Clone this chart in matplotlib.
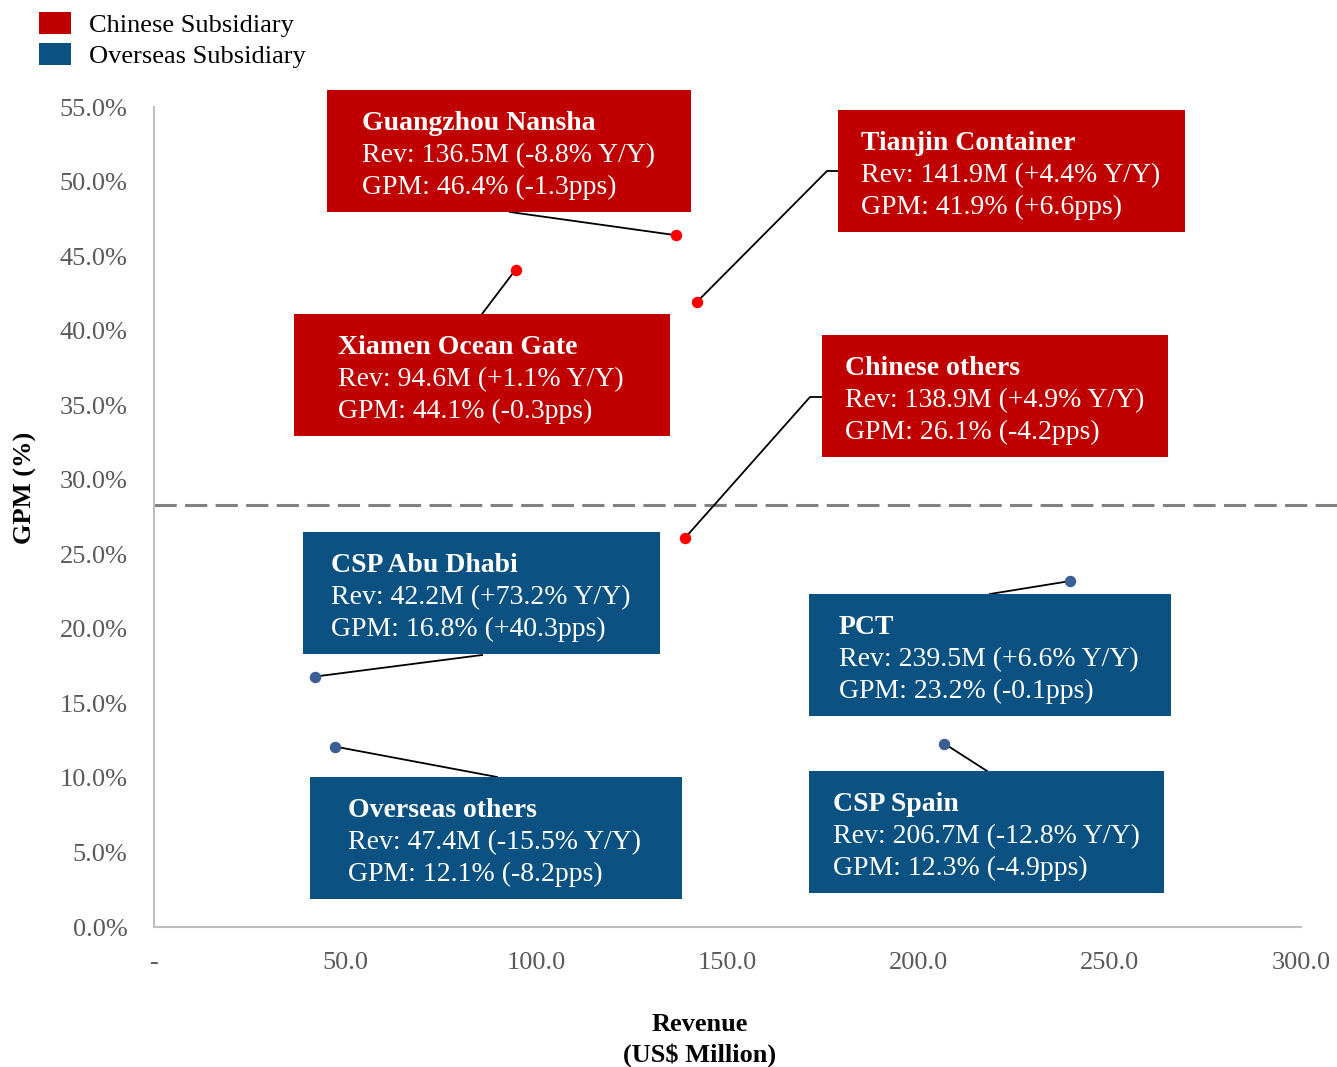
import matplotlib
matplotlib.use("Agg")
import matplotlib.pyplot as plt
from matplotlib.patches import Rectangle, Patch
from matplotlib.ticker import FuncFormatter, MultipleLocator

# ---------------- data ----------------
names = ["Guangzhou Nansha", "Tianjin Container", "Xiamen Ocean Gate", "Chinese others",
         "CSP Abu Dhabi", "PCT", "Overseas others", "CSP Spain"]
groups = ["Chinese", "Chinese", "Chinese", "Chinese",
          "Overseas", "Overseas", "Overseas", "Overseas"]
revenue = [136.5, 141.9, 94.6, 138.9, 42.2, 239.5, 47.4, 206.7]
gpm = [46.4, 41.9, 44.1, 26.1, 16.8, 23.2, 12.1, 12.3]
rev_yoy = ["-8.8%", "+4.4%", "+1.1%", "+4.9%", "+73.2%", "+6.6%", "-15.5%", "-12.8%"]
gpm_chg = ["-1.3pps", "+6.6pps", "-0.3pps", "-4.2pps", "+40.3pps", "-0.1pps", "-8.2pps", "-4.9pps"]
avg_gpm = 28.3
legend_labels = ["Chinese Subsidiary", "Overseas Subsidiary"]

# ---------------- styles / layout (reference pixels) ----------------
W, H = 1337, 1067
box_col = {"Chinese": "#C00000", "Overseas": "#0B5181"}
pt_col = {"Chinese": "#FF0000", "Overseas": "#3B5F94"}
# box: left, top, right, bottom, text-left
boxes = [
    (327, 90, 691, 212, 362),
    (838, 110, 1185, 232, 861),
    (294, 314, 670, 436, 338),
    (822, 335, 1168, 457, 845),
    (303, 532, 660, 654, 331),
    (809, 594, 1171, 716, 839),
    (310, 777, 682, 899, 348),
    (809, 771, 1164, 893, 833),
]
# leader path points (pixels) after the data point
leaders = [
    [(510, 212)],
    [(827, 171), (838, 171)],
    [(482, 314)],
    [(810, 397), (822, 397)],
    [(482, 655)],
    [(990, 594)],
    [(497, 777)],
    [(987, 771)],
]

plt.rcParams["font.family"] = ["Liberation Serif", "DejaVu Serif"]
plt.rcParams["lines.scale_dashes"] = False

fig = plt.figure(figsize=(W / 100, H / 100), dpi=100)
ax = fig.add_axes([154 / W, 1 - 927 / H, (1301 - 154) / W, (927 - 107) / H])
ax.set_xlim(0, 300)
ax.set_ylim(0, 55)

for s in ["top", "right"]:
    ax.spines[s].set_visible(False)
for s in ["left", "bottom"]:
    ax.spines[s].set_color("#BFBFBF")
    ax.spines[s].set_linewidth(1.5)

ax.xaxis.set_major_locator(MultipleLocator(50))
ax.yaxis.set_major_locator(MultipleLocator(5))
ax.xaxis.set_major_formatter(FuncFormatter(lambda v, p: "-" if abs(v) < 1e-9 else f"{v:.1f}"))
ax.yaxis.set_major_formatter(FuncFormatter(lambda v, p: f"{v:.1f}%"))
ax.tick_params(axis="both", length=0, labelsize=19, colors="#595959")
ax.tick_params(axis="x", pad=18)
ax.tick_params(axis="y", pad=19)

fig.text(25 / W, 1 - 488 / H, "GPM (%)", rotation=90, ha="center", va="center",
         fontsize=19, fontweight="bold")
fig.text(700 / W, 1 - 1040 / H, "Revenue\n(US$ Million)", ha="center", va="center",
         fontsize=19, fontweight="bold", linespacing=1.4)

# average line
ax.axhline(avg_gpm, xmin=0, xmax=(W - 154) / (1301 - 154), color="#808080", lw=2.2,
           dashes=(16, 6), clip_on=False, zorder=1)

def px2data(px, py):
    disp = fig.transFigure.transform((px / W, 1 - py / H))
    return ax.transData.inverted().transform(disp)

for i, name in enumerate(names):
    g = groups[i]
    l, t, r, b, tx = boxes[i]
    fig.patches.append(Rectangle((l / W, 1 - b / H), (r - l) / W, (b - t) / H,
                                 transform=fig.transFigure, facecolor=box_col[g],
                                 edgecolor="none", zorder=2))
    lines = [name, f"Rev: {revenue[i]:.1f}M ({rev_yoy[i]} Y/Y)", f"GPM: {gpm[i]:.1f}% ({gpm_chg[i]})"]
    for k, line in enumerate(lines):
        fig.text(tx / W, 1 - (t + 40 + 32 * k) / H, line, color="white", fontsize=20,
                 fontweight="bold" if k == 0 else "normal", ha="left", va="baseline", zorder=3)
    pts = [(revenue[i], gpm[i])] + [tuple(px2data(*p)) for p in leaders[i]]
    xs = [p[0] for p in pts]
    ys = [p[1] for p in pts]
    ax.plot(xs, ys, color="black", lw=1.3, zorder=4, clip_on=False)

for g in ["Chinese", "Overseas"]:
    xs = [revenue[i] for i in range(len(names)) if groups[i] == g]
    ys = [gpm[i] for i in range(len(names)) if groups[i] == g]
    ax.scatter(xs, ys, s=68, color=pt_col[g], zorder=5, clip_on=False, linewidths=0)

handles = [Patch(facecolor=box_col["Chinese"]), Patch(facecolor=box_col["Overseas"])]
fig.legend(handles, legend_labels, loc="upper left", bbox_to_anchor=(39 / W, 1 - 12 / H),
           frameon=False, fontsize=19, handlelength=1.2, handleheight=0.88,
           handletextpad=0.7, labelspacing=0.23, borderpad=0, borderaxespad=0)

fig.savefig("out.png", dpi=100)
